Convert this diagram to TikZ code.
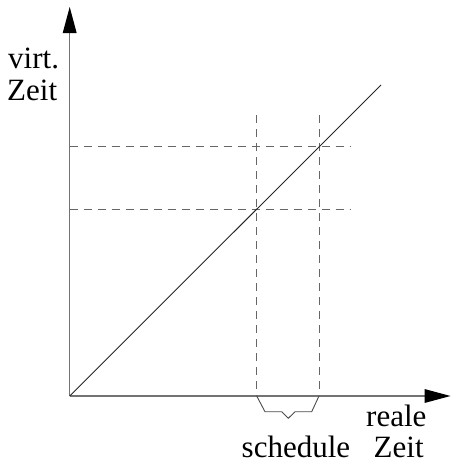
\documentclass[tikz,border=0pt]{standalone}
\usepackage{fontspec}
\setmainfont{Liberation Serif}
\begin{document}
\begin{tikzpicture}[x=1pt,y=-1pt,
  axis/.style={draw=black!55,line width=1.2pt},
  tip/.style={fill=black,draw=none},
  guide/.style={draw=black!60,line width=0.8pt,dash pattern=on 8pt off 6pt},
  graph/.style={draw=black!85,line width=0.9pt},
  brace/.style={draw=black!70,line width=0.9pt},
  lbl/.style={inner sep=0pt,anchor=base west,font=\fontsize{31}{32}\selectfont}]
\useasboundingbox (0,0) rectangle (451,461);
\coordinate (O) at (69.7,396);
\coordinate (Ytip) at (69.7,7);
\coordinate (Xtip) at (450.5,396);
\coordinate (Lend) at (381,85);
% axes
\draw[axis] (O) -- (69.7,33);
\draw[axis] (O) -- (425,396);
\fill[tip] (Ytip) -- (62.7,33) -- (76.7,33) -- cycle;
\fill[tip] (Xtip) -- (424.5,389) -- (424.5,403) -- cycle;
% guides
\coordinate (V1t) at (256.7,115);
\coordinate (V1b) at (256.7,396);
\coordinate (V2t) at (319,115);
\coordinate (V2b) at (319,396);
\coordinate (H1l) at (69.7,146.7);
\coordinate (H1r) at (350,146.7);
\coordinate (H2l) at (69.7,209);
\coordinate (H2r) at (350,209);
\draw[guide] (V1t) -- (V1b);
\draw[guide] (V2t) -- (V2b);
\draw[guide] (H1l) -- (H1r);
\draw[guide] (H2l) -- (H2r);
% graph
\draw[graph] (O) -- (Lend);
% brace
\coordinate (B1) at (265,411.7);
\coordinate (B2) at (281.7,411.7);
\coordinate (B3) at (288.3,418.3);
\coordinate (B4) at (295,411.7);
\coordinate (B5) at (311.7,411.7);
\draw[brace] (V1b) -- (B1) -- (B2) -- (B3) -- (B4) -- (B5) -- (V2b);
% labels
\node[lbl] (virt) at (8,68.5) {virt.};
\node[lbl] (zeit1) at (7,100.5) {Zeit};
\node[lbl] (reale) at (366,426.5) {reale};
\node[lbl] (zeit2) at (373.5,457) {Zeit};
\node[lbl] (sched) at (241.5,457) {schedule};
\end{tikzpicture}
\end{document}
